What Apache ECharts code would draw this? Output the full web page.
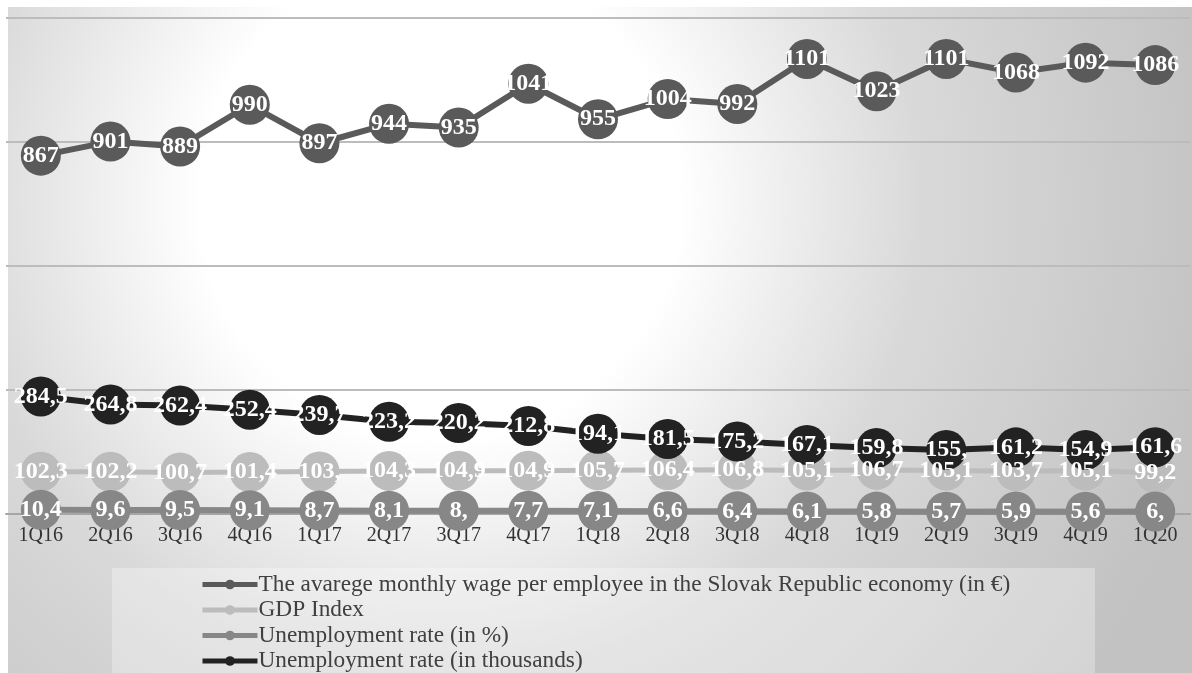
<!DOCTYPE html>
<html>
<head>
<meta charset="utf-8">
<script src="https://cdn.jsdelivr.net/npm/echarts@6/dist/echarts.min.js"></script>
<style>
  html, body { margin: 0; padding: 0; background: #fff; }
  #main { width: 1192px; height: 673px; }
</style>
</head>
<body>
<div id="main"></div>
<script>
// quarters on the x axis
var quarters = ['1Q16', '2Q16', '3Q16', '4Q16', '1Q17', '2Q17', '3Q17', '4Q17', '1Q18',
  '2Q18', '3Q18', '4Q18', '1Q19', '2Q19', '3Q19', '4Q19', '1Q20'];

// the four series
var wage = [867, 901, 889, 990, 897, 944, 935, 1041, 955, 1004, 992, 1101, 1023, 1101, 1068, 1092, 1086];
var gdpIndex = [102.3, 102.2, 100.7, 101.4, 103, 104.3, 104.9, 104.9, 105.7, 106.4, 106.8, 105.1, 106.7, 105.1, 103.7, 105.1, 99.2];
var unempRate = [10.4, 9.6, 9.5, 9.1, 8.7, 8.1, 8, 7.7, 7.1, 6.6, 6.4, 6.1, 5.8, 5.7, 5.9, 5.6, 6];
var unempThousands = [284.5, 264.8, 262.4, 252.4, 239.7, 223.2, 220.2, 212.8, 194.1, 181.5, 175.2, 167.1, 159.8, 155, 161.2, 154.9, 161.6];

var names = [
  'The avarege monthly wage per employee in the Slovak Republic economy (in €)',
  'GDP Index',
  'Unemployment rate (in %)',
  'Unemployment rate (in thousands)'
];

var serif = 'Liberation Serif';

// excel style: decimal comma, whole numbers keep the comma
function commaLabel(p) {
  var s = String(p.value);
  return s.indexOf('.') >= 0 ? s.replace('.', ',') : s + ',';
}

function makeSeries(name, data, color, width, fmt) {
  return {
    name: name,
    type: 'line',
    data: data,
    symbol: 'circle',
    symbolSize: 40,
    itemStyle: { color: color },
    lineStyle: { color: color, width: width },
    label: {
      show: true,
      position: 'inside',
      color: '#fff',
      fontFamily: serif,
      fontWeight: 'bold',
      fontSize: 24,
      formatter: fmt
    },
    emphasis: { disabled: true }
  };
}

var myChart = echarts.init(document.getElementById('main'));

var option = {
  animation: false,
  graphic: [
    {
      type: 'rect',
      z: -10,
      shape: { x: 8, y: 7, width: 1184, height: 666 },
      style: {
        fill: {
          type: 'radial', x: 440, y: 200, r: 800, global: true,
          colorStops: [
            { offset: 0, color: '#ffffff' },
            { offset: 0.3, color: '#ffffff' },
            { offset: 0.6, color: '#d9d9d9' },
            { offset: 1, color: '#c2c2c2' }
          ]
        }
      }
    },
    {
      type: 'rect',
      z: -9,
      shape: { x: 112, y: 568, width: 983, height: 105 },
      style: { fill: 'rgba(255,255,255,0.3)' }
    }
  ],
  grid: { left: 6, right: 2, top: 18, bottom: 159 },
  legend: {
    orient: 'vertical',
    left: 200,
    top: 573,
    height: 140,
    padding: 0,
    itemWidth: 55,
    itemHeight: 12,
    itemGap: 2.5,
    lineStyle: { width: 5 },
    textStyle: { fontFamily: serif, fontSize: 23.3, color: '#404040', lineHeight: 23, padding: [0, 0, 0, -4] },
    data: names
  },
  xAxis: {
    type: 'category',
    data: quarters,
    boundaryGap: true,
    axisLine: { lineStyle: { color: '#a6a6a6', width: 2 } },
    axisTick: { show: false },
    axisLabel: { fontFamily: serif, fontSize: 20, color: '#333', margin: 12 }
  },
  yAxis: {
    type: 'value',
    min: 0,
    max: 1200,
    interval: 300,
    axisLabel: { show: false },
    axisLine: { show: false },
    axisTick: { show: false },
    splitLine: { lineStyle: { color: '#bcbcbc', width: 2 } }
  },
  series: [
    makeSeries(names[0], wage, '#5a5a5a', 6, '{c}'),
    makeSeries(names[1], gdpIndex, '#bcbcbc', 5, commaLabel),
    makeSeries(names[2], unempRate, '#878787', 6, commaLabel),
    makeSeries(names[3], unempThousands, '#222222', 6, commaLabel)
  ]
};
myChart.setOption(option);
</script>
</body>
</html>
